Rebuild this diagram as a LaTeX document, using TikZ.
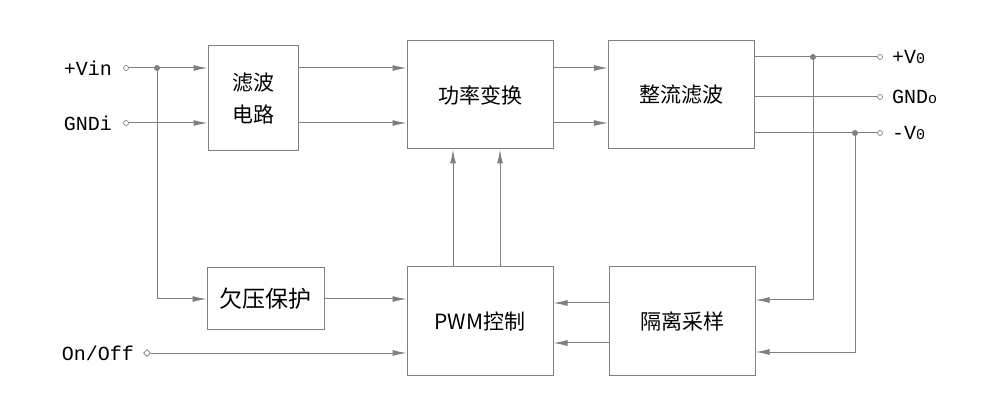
\documentclass[tikz,border=0pt]{standalone}
\usepackage{fontspec}
\setmonofont{Liberation Mono}
\newfontfamily\cjk{Noto Sans CJK SC}
\usetikzlibrary{arrows.meta,positioning,shapes.geometric}

\tikzset{
	blk/.style={draw=gray, line width=1pt, minimum width=146pt, minimum height=108pt,
		inner sep=0pt, align=center, font=\cjk\fontsize{21}{32}\selectfont},
	wire/.style={draw=gray, line width=1pt},
	arr/.style={wire, -{Latex[length=14pt,width=6pt]}},
	term/.style={circle, draw=gray, fill=white, inner sep=0pt, minimum size=5pt, line width=0.7pt},
	jdot/.style={circle, fill=gray, inner sep=0pt, minimum size=6pt},
	lbl/.style={inner sep=0pt, font=\ttfamily\fontsize{20}{24}\selectfont},
}

\begin{document}
\begin{tikzpicture}[x=1pt,y=-1pt]
	\useasboundingbox (0,0) rectangle (998,411);

	% blocks
	\node[blk, minimum width=90pt, minimum height=105pt] (flt) at (253,98.5) {滤波\\电路};
	\node[blk] (pwr) at (480,95) {功率变换};
	\node[blk] (rect) at (681.5,95) {整流滤波};
	\node[blk, minimum width=117pt, minimum height=62pt, font=\cjk\fontsize{23}{28}\selectfont] (uvp) at (265.5,299) {欠压保护};
	\node[blk] (pwm) at (480,321) {PWM控制};
	\node[blk] (iso) at (682,321) {隔离采样};

	% input side
	\node[term] (vin) at (126,68) {};
	\node[term] (gnd) at (126,123) {};
	\node[term, diamond, minimum size=7pt] (onoff) at (147,353) {};
	\node[lbl, left=11pt of vin] {+Vin};
	\node[lbl, left=11pt of gnd] {GNDi};
	\node[lbl, left=9pt of onoff] {On/Off};
	\node[jdot] (jin) at (157,68) {};

	% output side
	\node[term] (vo) at (880,57) {};
	\node[term] (go) at (880,97) {};
	\node[term] (no) at (880,133) {};
	\node[lbl, right=9pt of vo] {+V{\fontsize{15}{18}\selectfont 0}};
	\node[lbl, right=9pt of go] {GND{\fontsize{15}{18}\selectfont o}};
	\node[lbl, right=9pt of no] {-V{\fontsize{15}{18}\selectfont 0}};
	\node[jdot] (jp) at (813,57) {};
	\node[jdot] (jn) at (855,133) {};

	% connections
	\draw[wire] (vin) -- (jin);
	\draw[arr] (jin) -- (flt.west |- jin);
	\draw[arr] (gnd) -- (flt.west |- gnd);
	\draw[arr] (jin) |- (uvp.west);
	\draw[arr] (flt.east |- jin) -- (pwr.west |- jin);
	\draw[arr] (flt.east |- gnd) -- (pwr.west |- gnd);
	\draw[arr] (pwr.east |- jin) -- (rect.west |- jin);
	\draw[arr] (pwr.east |- gnd) -- (rect.west |- gnd);
	\draw[wire] (rect.east |- vo) -- (vo);
	\draw[wire] (rect.east |- go) -- (go);
	\draw[wire] (rect.east |- no) -- (no);
	\draw[arr] (jp) |- ([yshift=21pt]iso.east);
	\draw[arr] (jn) |- ([yshift=-31pt]iso.east);
	\draw[arr] ([yshift=18pt]iso.west) -- ([yshift=18pt]pwm.east);
	\draw[arr] ([yshift=-22pt]iso.west) -- ([yshift=-22pt]pwm.east);
	\draw[arr] (uvp) -- (pwm.west |- uvp);
	\draw[arr] (onoff) -- (pwm.west |- onoff);
	\draw[arr] ([xshift=-27pt]pwm.north) -- ([xshift=-27pt]pwr.south);
	\draw[arr] ([xshift=20pt]pwm.north) -- ([xshift=20pt]pwr.south);
\end{tikzpicture}
\end{document}
